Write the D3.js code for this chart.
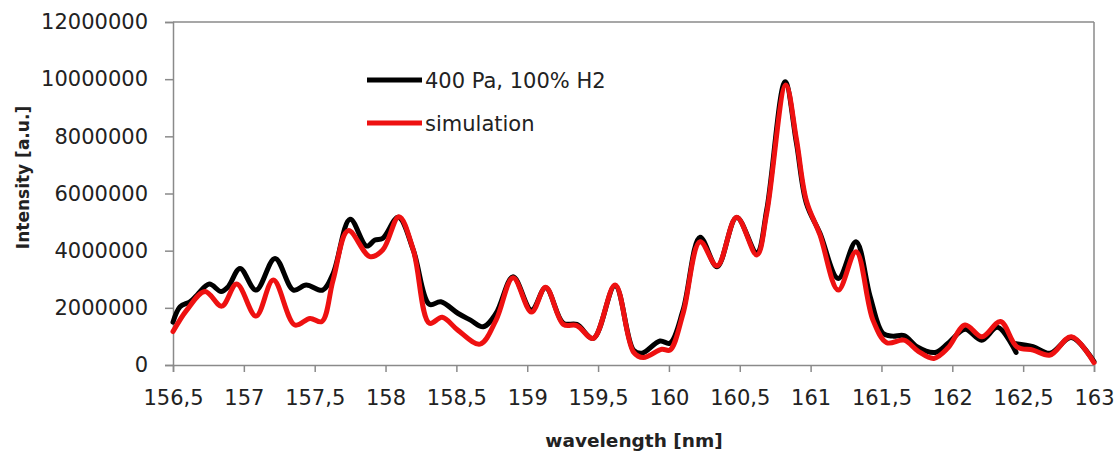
<!DOCTYPE html>
<html>
<head>
<meta charset="utf-8">
<script src="https://cdn.jsdelivr.net/npm/d3@7"></script>
<style>
  html, body { margin: 0; padding: 0; background: #fff; }
  svg { display: block; font-family: "DejaVu Sans", sans-serif; }
</style>
</head>
<body>
<div id="chart"></div>
<script>
// measured spectrum, 400 Pa, 100% H2 (null = break in the trace)
const expWavelength = [156.50, 156.55, 156.62, 156.67, 156.756, 156.84, 156.89, 156.973, 157.086, 157.22,
  157.35, 157.44, 157.556, 157.63, 157.75, 157.867, 157.925, 157.98, 158.09, 158.196,
  158.31, 158.39, 158.51, 158.60, 158.69, 158.78, 158.90, 159.03, 159.13, 159.255,
  159.35, 159.466, 159.62, 159.75, 159.81, 159.937, 160.007, 160.10, 160.22, 160.34,
  160.478, 160.62, 160.69, 160.82, 160.90, 160.97, 161.066, 161.195, 161.32, 161.42,
  161.51, 161.58, 161.66, 161.75, 161.88, 161.97, 162.09, 162.207, 162.32, 162.45,
  null, 162.44, 162.57, 162.69, 162.84, 163.0];
const expIntensity = [1500000, 2040000, 2210000, 2450000, 2830000, 2570000, 2740000, 3380000, 2620000, 3730000,
  2620000, 2800000, 2620000, 3200000, 5100000, 4160000, 4370000, 4430000, 5170000, 4020000,
  2120000, 2210000, 1810000, 1570000, 1340000, 1810000, 3090000, 1920000, 2700000, 1460000,
  1420000, 930000, 2770000, 520000, 410000, 840000, 760000, 1920000, 4470000, 3440000,
  5160000, 3930000, 5420000, 9910000, 7760000, 5660000, 4610000, 3030000, 4310000, 2400000,
  1110000, 1010000, 1030000, 640000, 440000, 760000, 1250000, 870000, 1320000, 440000,
  null, 750000, 640000, 410000, 960000, 120000];

// simulated spectrum
const simWavelength = [156.50, 156.597, 156.726, 156.844, 156.95, 157.086, 157.208, 157.36, 157.467, 157.55,
  157.63, 157.737, 157.89, 157.98, 158.095, 158.196, 158.31, 158.40, 158.51, 158.667,
  158.78, 158.90, 159.03, 159.13, 159.255, 159.35, 159.466, 159.62, 159.75, 159.82,
  159.95, 160.007, 160.10, 160.22, 160.34, 160.478, 160.62, 160.69, 160.825, 160.90,
  160.97, 161.066, 161.195, 161.32, 161.44, 161.537, 161.66, 161.76, 161.87, 161.97,
  162.09, 162.21, 162.34, 162.455, 162.57, 162.69, 162.84, 163.0];
const simIntensity = [1170000, 1920000, 2570000, 2060000, 2830000, 1710000, 2970000, 1400000, 1630000, 1520000,
  2970000, 4700000, 3790000, 4020000, 5190000, 4020000, 1460000, 1670000, 1220000, 730000,
  1570000, 3050000, 1850000, 2720000, 1420000, 1380000, 930000, 2800000, 450000, 260000,
  550000, 520000, 1800000, 4310000, 3470000, 5170000, 3850000, 5300000, 9800000, 7900000,
  5750000, 4550000, 2620000, 3960000, 1570000, 780000, 870000, 480000, 230000, 600000,
  1400000, 990000, 1520000, 640000, 520000, 350000, 990000, 80000];

const xTicks = [156.5, 157, 157.5, 158, 158.5, 159, 159.5, 160, 160.5, 161, 161.5, 162, 162.5, 163];
const yTicks = [0, 2000000, 4000000, 6000000, 8000000, 10000000, 12000000];
const seriesNames = ["400 Pa, 100% H2", "simulation"];
const seriesColors = ["#000000", "#ee1111"];

const width = 1120, height = 453;
const margin = { top: 22, right: 26, bottom: 88, left: 173 };
const innerW = width - margin.left - margin.right;
const innerH = height - margin.top - margin.bottom;

const svg = d3.select('#chart').append('svg').attr('width', width).attr('height', height);
const g = svg.append('g').attr('transform', `translate(${margin.left},${margin.top})`);

const x = d3.scaleLinear().domain([156.5, 163]).range([0, innerW]);
const y = d3.scaleLinear().domain([0, 12000000]).range([innerH, 0]);

const axisColor = '#8a8a8a';
const textColor = '#222';
const commaFmt = v => String(v).replace('.', ',');

// frame (top + right)
g.append('line').attr('x1', 0).attr('x2', innerW).attr('y1', 0).attr('y2', 0)
  .attr('stroke', axisColor).attr('stroke-width', 1.5);
g.append('line').attr('x1', innerW).attr('x2', innerW).attr('y1', 0).attr('y2', innerH)
  .attr('stroke', axisColor).attr('stroke-width', 1.5);

const yAxisG = g.append('g').call(d3.axisLeft(y).tickValues(yTicks).tickSize(8).tickPadding(17).tickFormat(d => d));
const xAxisG = g.append('g').attr('transform', `translate(0,${innerH})`)
  .call(d3.axisBottom(x).tickValues(xTicks).tickSize(7).tickPadding(20).tickFormat(commaFmt));

[yAxisG, xAxisG].forEach(ax => {
  ax.select('.domain').attr('stroke', axisColor).attr('stroke-width', 1.5);
  ax.selectAll('.tick line').attr('stroke', axisColor).attr('stroke-width', 1.5);
  ax.selectAll('.tick text').attr('fill', textColor).attr('font-size', 21)
    .attr('font-family', '"DejaVu Sans", sans-serif');
});
xAxisG.selectAll('.tick text').attr('dy', '0.6em');

// lines
const line = d3.line()
  .defined(d => d[0] !== null && d[1] !== null)
  .x(d => x(d[0]))
  .y(d => y(d[1]))
  .curve(d3.curveCatmullRom.alpha(0.5));

const expData = expWavelength.map((w, i) => [w, expIntensity[i]]);
const simData = simWavelength.map((w, i) => [w, simIntensity[i]]);

[expData, simData].forEach((data, i) => {
  g.append('path').datum(data)
    .attr('fill', 'none')
    .attr('stroke', seriesColors[i])
    .attr('stroke-width', 5)
    .attr('stroke-linejoin', 'round')
    .attr('stroke-linecap', 'round')
    .attr('d', line);
});

// legend
const legend = svg.append('g').attr('transform', 'translate(367,80)');
seriesNames.forEach((name, i) => {
  const row = legend.append('g').attr('transform', `translate(0,${i * 43})`);
  row.append('line').attr('x1', 0).attr('x2', 55).attr('y1', 0).attr('y2', 0)
    .attr('stroke', seriesColors[i]).attr('stroke-width', 5);
  row.append('text').attr('x', 58).attr('y', 0).attr('dy', '0.36em')
    .attr('font-size', 21).attr('fill', textColor).text(name);
});

// axis titles
svg.append('text')
  .attr('transform', `translate(29,${margin.top + innerH / 2 - 16}) rotate(-90)`)
  .attr('text-anchor', 'middle')
  .attr('font-size', 17).attr('font-weight', 'bold').attr('fill', textColor)
  .text('Intensity [a.u.]');
svg.append('text')
  .attr('x', 634).attr('y', 447)
  .attr('text-anchor', 'middle')
  .attr('font-size', 18.5).attr('font-weight', 'bold').attr('fill', textColor)
  .text('wavelength [nm]');
</script>
</body>
</html>
